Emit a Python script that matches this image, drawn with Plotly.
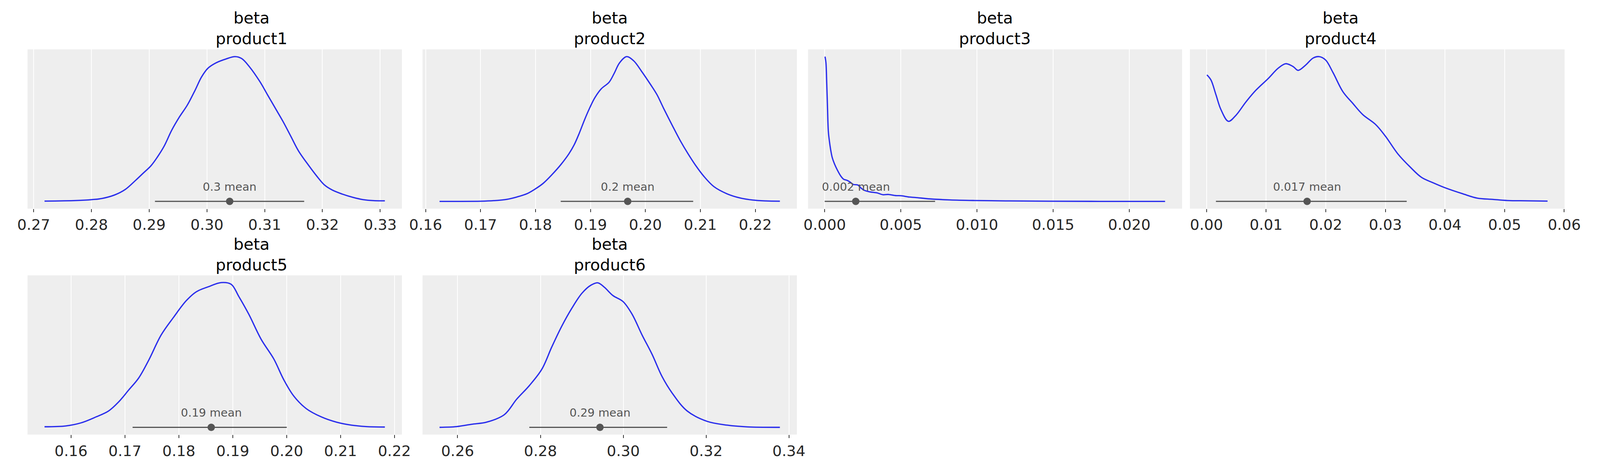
import plotly.graph_objects as go

# posterior densities of beta per product (density scaled to peak = 1)
products = ["product1", "product2", "product3", "product4", "product5", "product6"]

p1_x = [0.27188, 0.27734, 0.28003, 0.28182, 0.28406, 0.28585, 0.28764, 0.28899, 0.29033,
        0.29145, 0.29257, 0.29391, 0.29525, 0.29660, 0.29794, 0.29906, 0.30018, 0.30152,
        0.30331, 0.30488, 0.30600, 0.30734, 0.30914, 0.31048, 0.31182, 0.31316, 0.31451,
        0.31585, 0.31764, 0.31899, 0.32033, 0.32167, 0.32346, 0.32525, 0.32705, 0.32884,
        0.33081]
p1_density = [0.002, 0.006, 0.012, 0.020, 0.045, 0.082, 0.145, 0.196, 0.247, 0.308, 0.380,
              0.492, 0.584, 0.665, 0.767, 0.859, 0.920, 0.956, 0.984, 1.000, 0.987, 0.931,
              0.829, 0.737, 0.645, 0.553, 0.451, 0.349, 0.247, 0.176, 0.114, 0.079, 0.050,
              0.028, 0.012, 0.005, 0.004]

p2_x = [0.16254, 0.16537, 0.17008, 0.17243, 0.17479, 0.17667, 0.17856, 0.17997, 0.18138,
        0.18303, 0.18468, 0.18609, 0.18703, 0.18797, 0.18892, 0.18986, 0.19080, 0.19198,
        0.19339, 0.19433, 0.19528, 0.19659, 0.19787, 0.19928, 0.20093, 0.20211, 0.20329,
        0.20493, 0.20634, 0.20776, 0.20917, 0.21058, 0.21247, 0.21482, 0.21718, 0.21953,
        0.22189, 0.22448]
p2_density = [0.000, 0.000, 0.001, 0.005, 0.014, 0.031, 0.055, 0.086, 0.124, 0.186, 0.257,
              0.329, 0.390, 0.471, 0.563, 0.645, 0.716, 0.778, 0.823, 0.885, 0.956, 1.000,
              0.971, 0.900, 0.808, 0.737, 0.645, 0.522, 0.420, 0.329, 0.247, 0.176, 0.102,
              0.053, 0.024, 0.009, 0.003, 0.001]

p3_x = [0.000023, 0.000083, 0.000130, 0.000183, 0.000243, 0.000319, 0.000408, 0.000496,
        0.000644, 0.000821, 0.001058, 0.001235, 0.001472, 0.001649, 0.001885, 0.002181,
        0.002358, 0.002594, 0.002949, 0.003422, 0.003835, 0.004190, 0.004663, 0.005018,
        0.005550, 0.00595, 0.00693, 0.00824, 0.00987, 0.01216, 0.01477, 0.01804, 0.02235]
p3_density = [1.000, 0.959, 0.835, 0.658, 0.481, 0.410, 0.348, 0.303, 0.259, 0.219, 0.175,
              0.154, 0.145, 0.135, 0.117, 0.113, 0.095, 0.077, 0.066, 0.059, 0.046, 0.048,
              0.040, 0.039, 0.030, 0.027, 0.017, 0.010, 0.006, 0.003, 0.001, 0.000, 0.000]

p4_x = [0.00008, 0.00075, 0.00159, 0.00242, 0.00368, 0.00493, 0.00660, 0.00827, 0.01036,
        0.01203, 0.01328, 0.01454, 0.01537, 0.01662, 0.01788, 0.01888, 0.01997, 0.02122,
        0.02289, 0.02456, 0.02623, 0.02832, 0.03000, 0.03208, 0.03417, 0.03609, 0.03793,
        0.04002, 0.04294, 0.04545, 0.04795, 0.05046, 0.05380, 0.05720]
p4_density = [0.874, 0.839, 0.737, 0.635, 0.553, 0.594, 0.686, 0.767, 0.849, 0.920, 0.951,
              0.931, 0.905, 0.941, 0.990, 1.000, 0.977, 0.890, 0.757, 0.676, 0.599, 0.533,
              0.451, 0.329, 0.237, 0.165, 0.130, 0.094, 0.053, 0.022, 0.014, 0.006, 0.004,
              0.002]

p5_x = [0.15508, 0.15907, 0.16186, 0.16464, 0.16697, 0.16882, 0.17068, 0.17254, 0.17440,
        0.17672, 0.17904, 0.18136, 0.18322, 0.18554, 0.18786, 0.18972, 0.19111, 0.19297,
        0.19529, 0.19761, 0.19947, 0.20133, 0.20365, 0.20644, 0.20922, 0.21201, 0.21480,
        0.21823]
p5_density = [0.004, 0.010, 0.031, 0.072, 0.113, 0.175, 0.257, 0.340, 0.463, 0.638, 0.761,
              0.874, 0.936, 0.972, 1.000, 0.988, 0.905, 0.782, 0.607, 0.473, 0.329, 0.216,
              0.129, 0.072, 0.036, 0.015, 0.005, 0.002]

p6_x = [0.25564, 0.25976, 0.26339, 0.26702, 0.27126, 0.27428, 0.27731, 0.28033, 0.28275,
        0.28517, 0.28759, 0.29001, 0.29219, 0.29389, 0.29546, 0.29752, 0.29994, 0.30212,
        0.30454, 0.30696, 0.30938, 0.31180, 0.31543, 0.32027, 0.32511, 0.32995, 0.33782]
p6_density = [0.000, 0.005, 0.021, 0.036, 0.087, 0.195, 0.288, 0.401, 0.556, 0.700, 0.823,
              0.926, 0.982, 0.998, 0.967, 0.910, 0.869, 0.782, 0.638, 0.504, 0.350, 0.237,
              0.113, 0.041, 0.015, 0.003, 0.000]

hdi_low = [0.29100, 0.18459, 0.00000, 0.00159, 0.17142, 0.27731]
hdi_high = [0.31684, 0.20870, 0.00725, 0.03358, 0.20003, 0.31059]
means = [0.30394, 0.19678, 0.00204, 0.01688, 0.18601, 0.29437]
mean_labels = ["0.3", "0.2", "0.002", "0.017", "0.19", "0.29"]
tick_steps = [0.01, 0.01, 0.005, 0.01, 0.01, 0.02]
tick_formats = [".2f", ".2f", ".3f", ".2f", ".2f", ".2f"]

xs_all = [p1_x, p2_x, p3_x, p4_x, p5_x, p6_x]
ds_all = [p1_density, p2_density, p3_density, p4_density, p5_density, p6_density]

# grid of panels (paper coords)
col_domains = [[0.0071, 0.2464], [0.2596, 0.4989], [0.5060, 0.7451], [0.7501, 0.9896]]
row_domains = [[0.5540, 0.8996], [0.0636, 0.4092]]

FONT = "DejaVu Sans"
BLUE = "#2a2eec"
GREY = "#555555"

fig = go.Figure()
annotations = []
layout_axes = {}

for i, name in enumerate(products):
    n = i + 1
    row, col = divmod(i, 4)
    xs, ds = xs_all[i], ds_all[i]

    fig.add_trace(go.Scatter(x=xs, y=ds, xaxis=f"x{n}", yaxis=f"y{n}", mode="lines",
                             line=dict(color=BLUE, width=3.3, shape="spline", smoothing=1.0),
                             hoverinfo="skip"))
    fig.add_trace(go.Scatter(x=[hdi_low[i], hdi_high[i]], y=[0, 0], xaxis=f"x{n}", yaxis=f"y{n}",
                             mode="lines", line=dict(color=GREY, width=3), hoverinfo="skip"))
    fig.add_trace(go.Scatter(x=[means[i]], y=[0], xaxis=f"x{n}", yaxis=f"y{n}", mode="markers",
                             marker=dict(size=19, color=GREY), hoverinfo="skip"))

    annotations.append(dict(x=means[i], y=0.10, xref=f"x{n}", yref=f"y{n}",
                            text=f"{mean_labels[i]} mean", showarrow=False,
                            font=dict(family=FONT, size=29, color=GREY)))

    d0, d1 = col_domains[col]
    annotations.append(dict(x=(d0 + d1) / 2, y=row_domains[row][1], xref="paper", yref="paper",
                            text=f"beta<br>{name}", showarrow=False, yanchor="bottom", yshift=1,
                            font=dict(family=FONT, size=41, color="black")))

    lo, hi = min(xs), max(xs)
    pad = 0.05 * (hi - lo)
    layout_axes[f"xaxis{n}"] = dict(
        domain=col_domains[col], anchor=f"y{n}", range=[lo - pad, hi + pad],
        tick0=0, dtick=tick_steps[i], tickformat=tick_formats[i],
        showgrid=True, gridcolor="white", gridwidth=2, zeroline=False, showline=False,
        ticks="outside", ticklen=8, tickwidth=2, tickcolor="#333333",
        tickfont=dict(family=FONT, size=38, color="#262626"))
    layout_axes[f"yaxis{n}"] = dict(
        domain=row_domains[row], anchor=f"x{n}", range=[-0.05, 1.05],
        showticklabels=False, showgrid=False, zeroline=False, showline=False, ticks="")

fig.update_layout(**layout_axes)
# no fixed size: the figure fills the browser window
fig.update_layout(autosize=True, margin=dict(l=0, r=0, t=0, b=0),
                  paper_bgcolor="white", plot_bgcolor="#eeeeee", showlegend=False,
                  annotations=annotations, font=dict(family=FONT))

fig.write_html("out.html")
